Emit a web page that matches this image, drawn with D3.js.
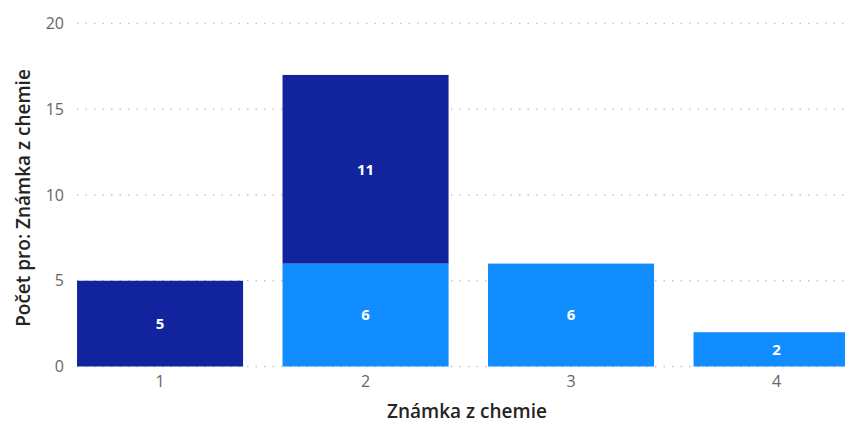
<!DOCTYPE html>
<html lang="cs">
<head>
    <meta charset="UTF-8">
    <title>Známka z chemie</title>
    <style>
        body { margin: 0; background: #fff; }
        svg { display: block; font-family: "Open Sans", "Noto Sans", sans-serif; }
        .grid line { stroke: #c8c6c4; stroke-width: 1.5; stroke-dasharray: 1.5,7; }
        .tick-label { fill: #666; font-size: 16px; }
        .axis-title { fill: #252423; font-size: 19px; font-weight: 600; }
        .bar-label { fill: #fff; font-size: 15px; font-weight: 700; }
    </style>
</head>
<body>
    <svg id="chart" width="845" height="424"></svg>
    <script src="https://d3js.org/d3.v7.min.js"></script>
    <script>
        // data
        const grades = ["1", "2", "3", "4"];
        const seriesNames = ["dark", "light"];
        const darkValues = [5, 11, 0, 0];
        const lightValues = [0, 6, 6, 2];
        const yTicks = [0, 5, 10, 15, 20];
        const colors = { dark: "#12239e", light: "#118dff" };

        const width = 845, height = 424;
        const svg = d3.select("#chart");

        // band step ~205.5px, first bar starts at x=77
        const x = d3.scaleBand()
            .domain(grades)
            .range([57.3, 879.3])
            .paddingInner(0.192)
            .paddingOuter(0.096);
        const y = d3.scaleLinear().domain([0, 20]).range([366.5, 23.5]);

        // dotted gridlines
        svg.append("g").attr("class", "grid")
            .selectAll("line").data(yTicks).join("line")
            .attr("x1", 77).attr("x2", width)
            .attr("y1", d => y(d)).attr("y2", d => y(d));

        // y tick labels
        svg.append("g").selectAll("text").data(yTicks).join("text")
            .attr("class", "tick-label")
            .attr("x", 64)
            .attr("y", d => y(d))
            .attr("dy", "0.35em")
            .attr("text-anchor", "end")
            .text(d => d);

        // x tick labels
        svg.append("g").selectAll("text").data(grades).join("text")
            .attr("class", "tick-label")
            .attr("x", d => x(d) + x.bandwidth() / 2)
            .attr("y", 387)
            .attr("text-anchor", "middle")
            .text(d => d);

        // stacked bars
        const rows = grades.map((g, i) => ({ grade: g, dark: darkValues[i], light: lightValues[i] }));
        const stack = d3.stack().keys(seriesNames.slice().reverse())(rows);

        const layers = svg.append("g").selectAll("g").data(stack).join("g")
            .attr("fill", d => colors[d.key]);

        layers.selectAll("rect").data(d => d.filter(s => s[1] > s[0])).join("rect")
            .attr("x", d => x(d.data.grade))
            .attr("width", x.bandwidth())
            .attr("y", d => y(d[1]))
            .attr("height", d => y(d[0]) - y(d[1]));

        layers.selectAll("text").data(d => d.filter(s => s[1] > s[0])).join("text")
            .attr("class", "bar-label")
            .attr("x", d => x(d.data.grade) + x.bandwidth() / 2)
            .attr("y", d => (y(d[0]) + y(d[1])) / 2)
            .attr("dy", "0.35em")
            .attr("text-anchor", "middle")
            .text(d => d[1] - d[0]);

        // axis titles
        svg.append("text")
            .attr("class", "axis-title")
            .attr("x", 467)
            .attr("y", 418)
            .attr("text-anchor", "middle")
            .text("Známka z chemie");

        svg.append("text")
            .attr("class", "axis-title")
            .attr("transform", "translate(30,198) rotate(-90)")
            .attr("text-anchor", "middle")
            .text("Počet pro: Známka z chemie");
    </script>
</body>
</html>
